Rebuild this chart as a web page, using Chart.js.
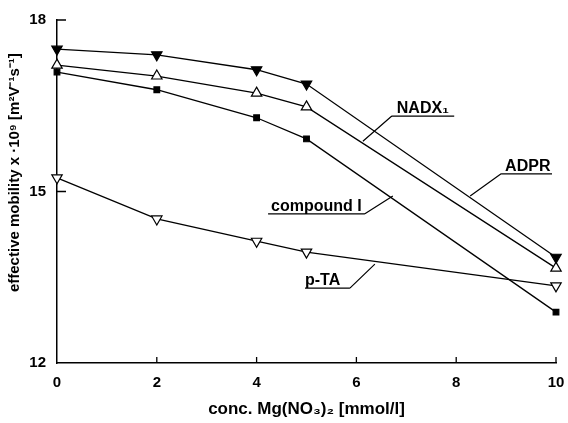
<!DOCTYPE html>
<html>
<head>
<meta charset="utf-8">
<script src="https://cdn.jsdelivr.net/npm/chart.js@4/dist/chart.umd.min.js"></script>
<style>
  html, body { margin: 0; padding: 0; background: #fff; }
  #wrap { width: 568px; height: 423px; }
</style>
</head>
<body>
<div id="wrap"><canvas id="chart"></canvas></div>
<script>
// concentration of Mg(NO3)2 in mmol/l
const CONC = [0, 2, 4, 5, 10];

// effective mobility x 10^9 [m2 V-1 s-1]
const ADPR = [17.49, 17.39, 17.13, 16.88, 13.85];
const NADX1 = [17.21, 17.02, 16.72, 16.48, 13.66];
const COMPOUND_I = [17.09, 16.78, 16.29, 15.92, 12.89];
const P_TA = [15.24, 14.52, 14.13, 13.94, 13.35];

const X_TICKS = [0, 2, 4, 6, 8, 10];
const Y_TICKS = [12, 15, 18];

const Y_TITLE = "effective mobility x ·10⁹ [m²V⁻¹s⁻¹]";
const X_TITLE = "conc. Mg(NO₃)₂ [mmol/l]";

// callout labels (data units): underline from u0 to u1 at height uy, leader from (lx0,uy) to (lx1,ly1)
const LABELS = [
  { text: "NADX₁", tx: 6.81, u0: 6.71, u1: 7.96, uy: 16.32, lx0: 6.71, lx1: 6.13, ly1: 15.88 },
  { text: "ADPR", tx: 8.98, u0: 8.90, u1: 9.92, uy: 15.31, lx0: 8.90, lx1: 8.28, ly1: 14.92 },
  { text: "compound I", tx: 4.29, u0: 4.23, u1: 6.17, uy: 14.61, lx0: 6.17, lx1: 6.73, ly1: 14.92 },
  { text: "p-TA", tx: 4.97, u0: 4.97, u1: 5.87, uy: 13.31, lx0: 5.87, lx1: 6.37, ly1: 13.73 }
];

function toPoints(values) {
  return CONC.map((c, i) => ({ x: c, y: values[i] }));
}

const FONT = "'Liberation Sans', Arial, sans-serif";

// inward tick marks, y title and callout labels
const extrasPlugin = {
  id: "extras",
  afterDatasetsDraw(chart) {
    const ctx = chart.ctx;
    const xs = chart.scales.x;
    const ys = chart.scales.y;
    ctx.save();
    ctx.strokeStyle = "#000";
    ctx.lineWidth = 1.3;
    ctx.beginPath();
    X_TICKS.forEach(v => {
      if (v === 0) return;
      const px = xs.getPixelForValue(v);
      ctx.moveTo(px, ys.bottom);
      ctx.lineTo(px, ys.bottom - 6);
    });
    [15, 18].forEach(v => {
      const py = ys.getPixelForValue(v);
      ctx.moveTo(xs.left, py);
      ctx.lineTo(xs.left + 9, py);
    });
    ctx.stroke();

    ctx.fillStyle = "#000";
    ctx.lineWidth = 1.2;
    LABELS.forEach(l => {
      const uy = ys.getPixelForValue(l.uy);
      ctx.beginPath();
      ctx.moveTo(xs.getPixelForValue(l.u0), uy);
      ctx.lineTo(xs.getPixelForValue(l.u1), uy);
      ctx.moveTo(xs.getPixelForValue(l.lx0), uy);
      ctx.lineTo(xs.getPixelForValue(l.lx1), ys.getPixelForValue(l.ly1));
      ctx.stroke();
      ctx.font = "bold 16px " + FONT;
      ctx.textAlign = "left";
      ctx.textBaseline = "alphabetic";
      ctx.fillText(l.text, xs.getPixelForValue(l.tx), uy - 3);
    });

    // y title, sits a bit above the middle of the axis
    ctx.translate(15, ys.getPixelForValue(15.33));
    ctx.rotate(-Math.PI / 2);
    ctx.font = "bold 15px " + FONT;
    ctx.textAlign = "center";
    ctx.textBaseline = "middle";
    ctx.fillText(Y_TITLE, 0, 0);
    ctx.restore();
  }
};

function lineSet(label, values, style, rotation, fill, radius) {
  return {
    label,
    data: toPoints(values),
    borderColor: "#000",
    borderWidth: 1.3,
    pointStyle: style,
    rotation,
    pointRadius: radius,
    pointBackgroundColor: fill,
    pointBorderColor: "#000",
    pointBorderWidth: 1.2,
    tension: 0,
    fill: false,
    clip: false
  };
}

new Chart(document.getElementById("chart"), {
  type: "line",
  data: {
    datasets: [
      lineSet("ADPR", ADPR, "triangle", 180, "#000", 6),
      lineSet("NADX1", NADX1, "triangle", 0, "#fff", 6),
      lineSet("compound I", COMPOUND_I, "rect", 0, "#000", 4),
      lineSet("p-TA", P_TA, "triangle", 180, "#fff", 6)
    ]
  },
  options: {
    responsive: true,
    maintainAspectRatio: false,
    animation: false,
    layout: { padding: { top: 20, right: 12, left: 0, bottom: 0 } },
    plugins: { legend: { display: false }, tooltip: { enabled: false } },
    scales: {
      x: {
        type: "linear",
        min: 0,
        max: 10,
        afterBuildTicks: s => { s.ticks = X_TICKS.map(v => ({ value: v })); },
        afterFit: s => { s.height = 60; s.paddingLeft = 0; s.paddingRight = 0; },
        grid: { display: false, drawTicks: false },
        border: { display: true, color: "#000", width: 1.5 },
        ticks: { color: "#000", padding: 11, font: { family: FONT, size: 15, weight: "bold" } },
        title: {
          display: true,
          text: X_TITLE,
          color: "#000",
          padding: { top: 0, bottom: 3 },
          font: { family: FONT, size: 17, weight: "bold" }
        }
      },
      y: {
        min: 12,
        max: 18,
        afterBuildTicks: s => { s.ticks = Y_TICKS.map(v => ({ value: v })); },
        afterFit: s => { s.width = 57; s.paddingTop = 0; s.paddingBottom = 0; },
        grid: { display: false, drawTicks: false },
        border: { display: true, color: "#000", width: 1.5 },
        ticks: { color: "#000", padding: 11, font: { family: FONT, size: 15, weight: "bold" } }
      }
    }
  },
  plugins: [extrasPlugin]
});
</script>
</body>
</html>
